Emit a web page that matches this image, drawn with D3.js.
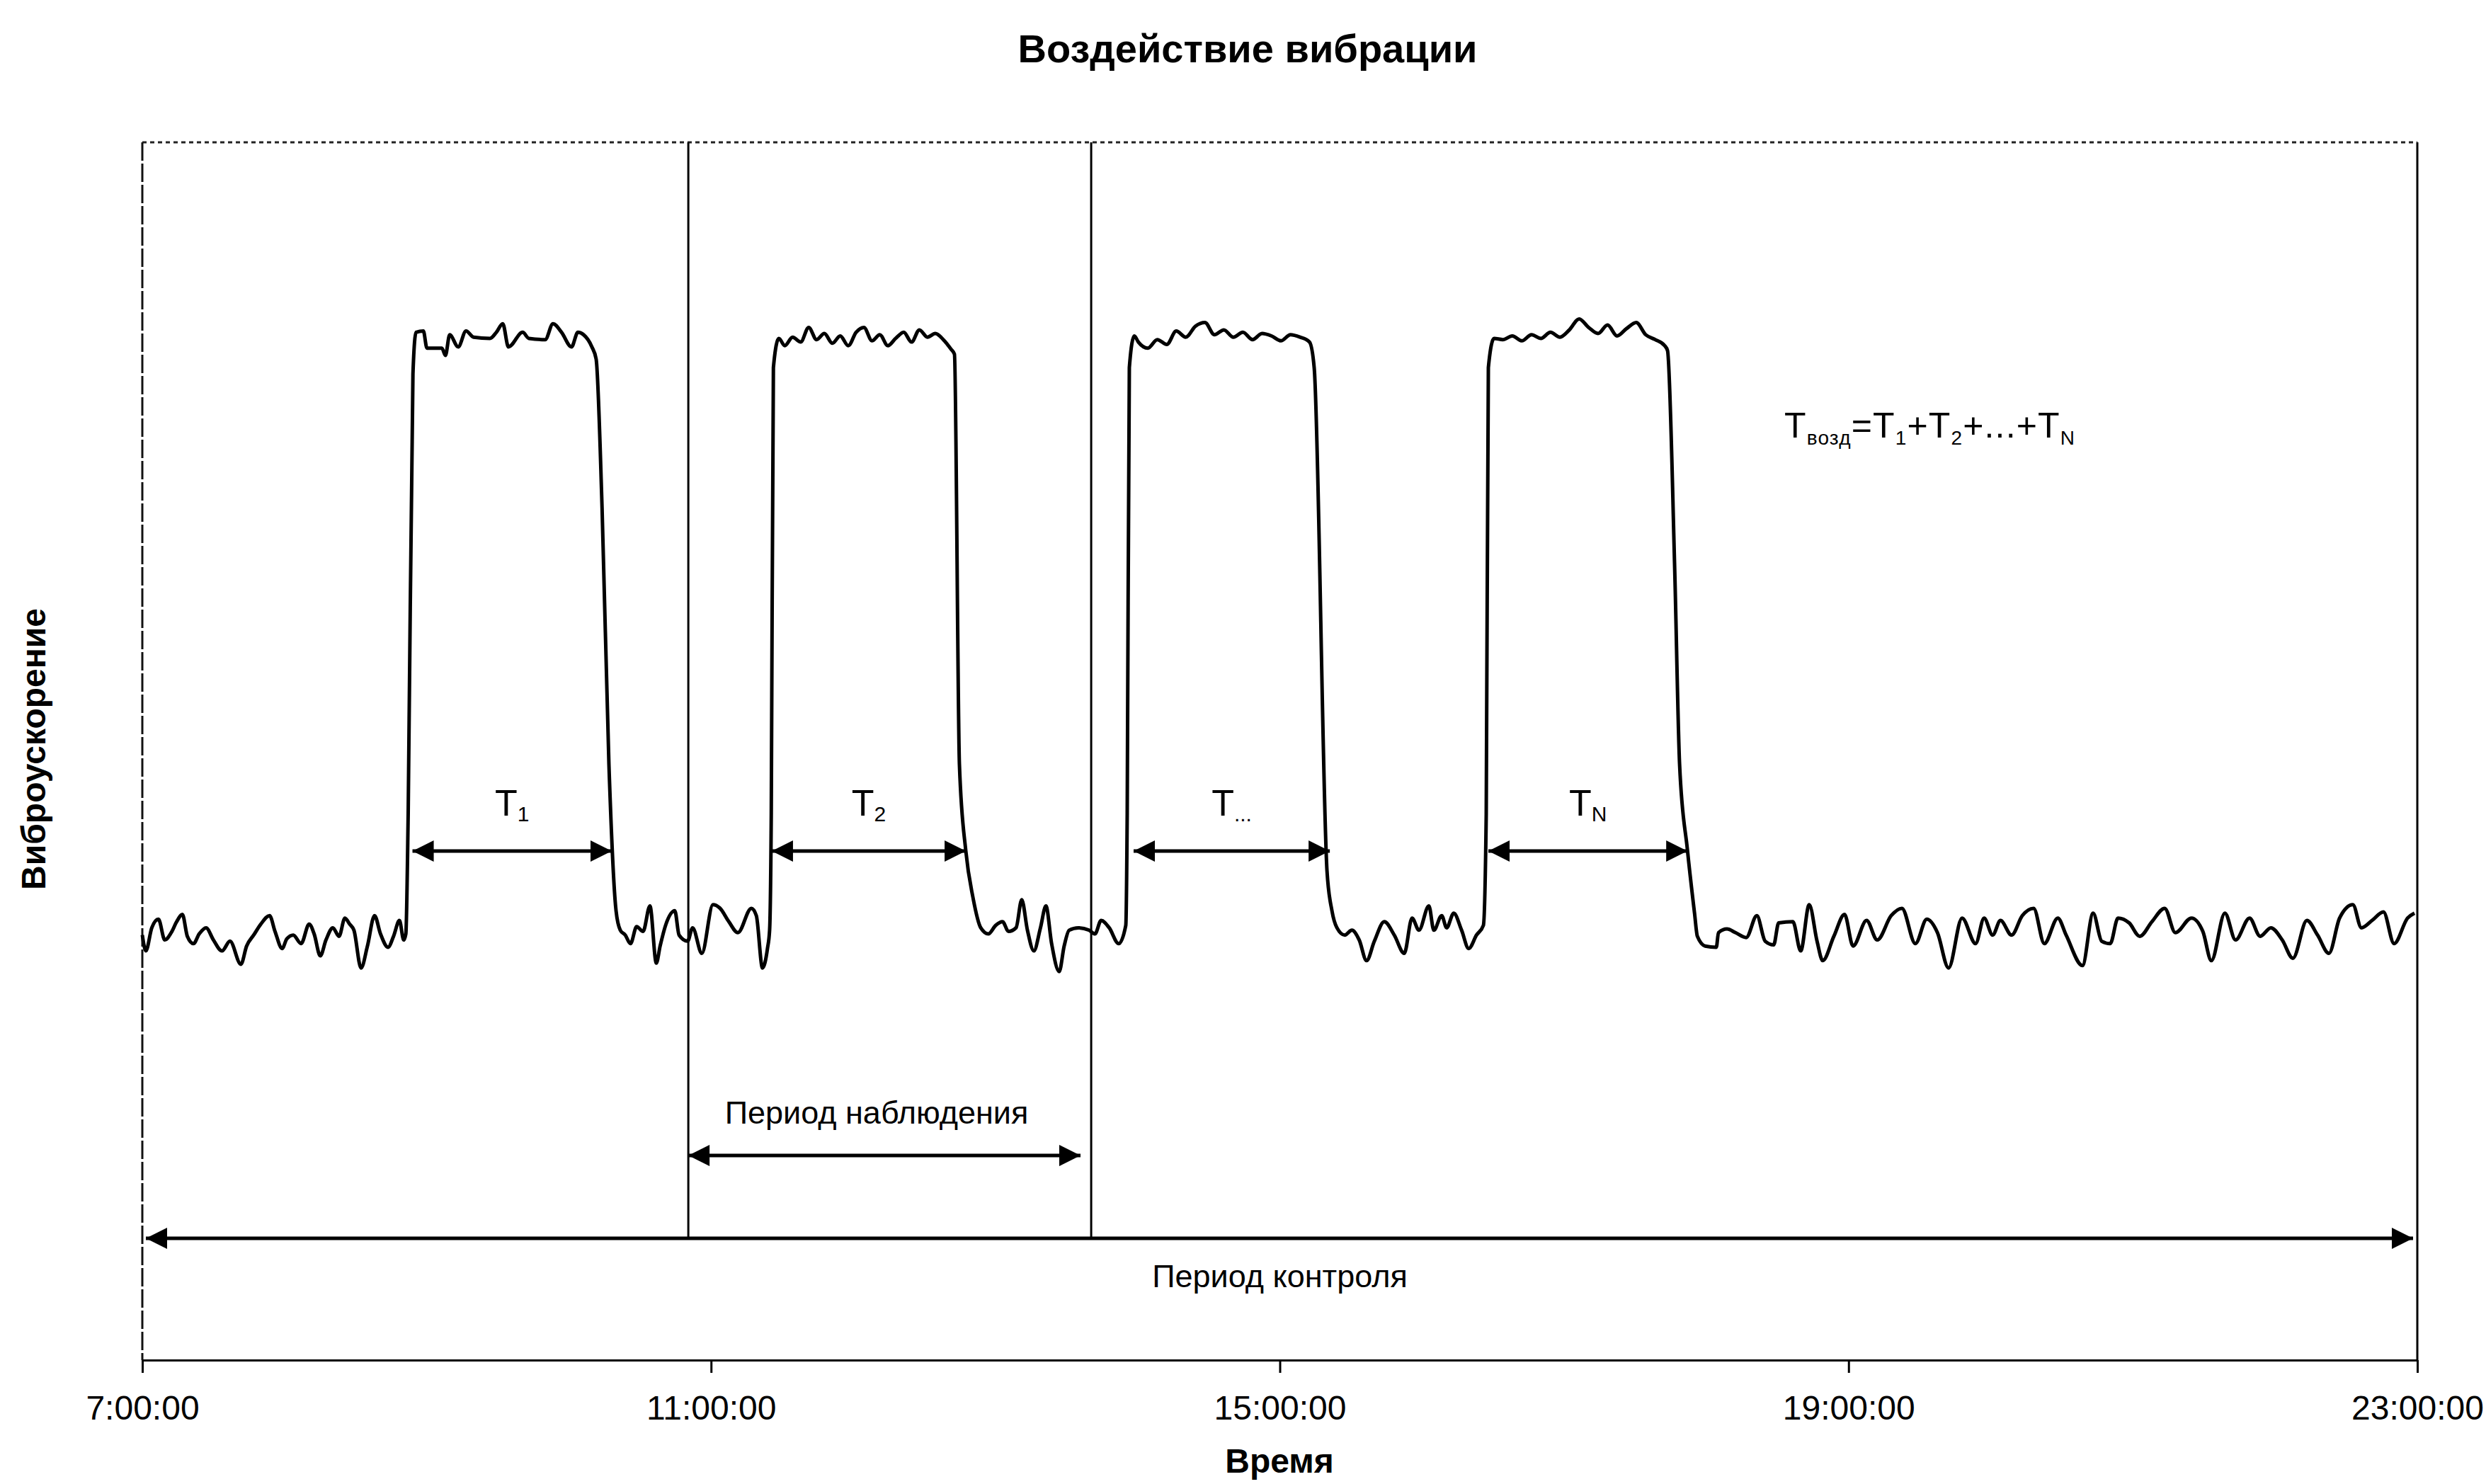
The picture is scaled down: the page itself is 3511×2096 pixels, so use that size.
<!DOCTYPE html>
<html>
<head>
<meta charset="utf-8">
<script src="https://cdn.jsdelivr.net/npm/d3@7"></script>
<style>
  body { margin: 0; background: #fff; }
  text { font-family: "Liberation Sans", Arial, sans-serif; fill: #000; }
</style>
</head>
<body>
<svg id="chart" width="3511" height="2096"></svg>
<script>
//Chart values.
//Time is in minutes after 7:00, level is in arbitrary units (0..10).
var tickHours = [7, 11, 15, 19, 23];
var tickLabels = ["7:00:00", "11:00:00", "15:00:00", "19:00:00", "23:00:00"];

var signal = [
  [0,3.49],[1.5,3.36],[4,3.55],[6.8,3.62],[9.5,3.45],[12.2,3.51],[14.5,3.60],[16.9,3.66],[19,3.48],[21.6,3.42],
  [24,3.50],[26.9,3.55],[30,3.45],[33.6,3.36],[37,3.44],[41.6,3.25],[44,3.40],[47,3.49],[50,3.58],[53.7,3.65],
  [56,3.52],[59,3.38],[61,3.46],[63.7,3.49],[67,3.42],[70.4,3.58],[72.5,3.50],[75.1,3.32],[77.5,3.45],[80.4,3.55],
  [83,3.48],[85.5,3.63],[87.5,3.58],[89.3,3.53],[92.3,3.22],[95,3.40],[98,3.65],[100.5,3.50],[103.7,3.39],[106,3.48],
  [108.5,3.61],[110.3,3.45],[111.2,3.50],[112.2,4.5],[114.2,8.10],[115.5,8.44],
  [118.6,8.45],[120.1,8.31],[126.4,8.31],[127.9,8.25],[129.7,8.42],[133.3,8.32],[136.6,8.45],[139.8,8.40],[146.7,8.39],
  [149.4,8.44],[152.1,8.51],[154.5,8.32],[160.5,8.44],[163.1,8.39],[170.0,8.38],[173.3,8.51],[176.9,8.44],[181.1,8.32],
  [183.8,8.44],[186.2,8.42],[189.7,8.32],[191.5,8.22],
  [194,7.0],[196.9,4.89],[199.9,3.69],[201.7,3.53],
  [203.8,3.49],[206,3.42],[208.6,3.56],[211.3,3.52],[214.2,3.73],[216.9,3.26],[218.5,3.40],[220.8,3.57],[224.7,3.69],
  [226.5,3.49],[230.1,3.44],[232.2,3.55],[236.1,3.34],[240.8,3.74],[243.8,3.71],[247.5,3.60],[251.3,3.51],[257.0,3.71],
  [259.1,3.65],[261.7,3.22],[263.8,3.38],[264.7,3.53],
  [265.4,4.48],[266.3,8.15],[268.6,8.39],
  [271.1,8.33],[274.4,8.40],[277.8,8.36],[281.2,8.48],[284.5,8.38],[287.8,8.43],[291.2,8.35],[294.5,8.41],[297.9,8.33],
  [301.2,8.44],[304.5,8.48],[307.9,8.37],[311.2,8.42],[314.6,8.33],[317.9,8.39],[321.3,8.44],[324.6,8.36],[327.9,8.46],
  [331.3,8.40],[334.6,8.43],[338.0,8.38],[341.3,8.30],[342.7,8.26],
  [344.8,4.89],[347.5,4.18],[350.5,3.80],[353.8,3.55],
  [357,3.50],[360.1,3.57],[363.0,3.60],[365.5,3.52],[368.7,3.55],[371.1,3.78],[373.5,3.53],[376.2,3.36],[379,3.55],
  [381.3,3.73],[383.7,3.42],[386.9,3.19],[389,3.40],[391.1,3.53],[395,3.55],[399.5,3.53],[402,3.50],[404.6,3.61],
  [408,3.55],[412.0,3.42],[415.0,3.57],
  [415.6,4.48],[416.5,8.15],[418.6,8.41],
  [420.3,8.36],[424.3,8.31],[428.3,8.38],[432.3,8.34],[436.3,8.45],[440.3,8.40],[444.4,8.49],[448.4,8.52],[452.4,8.42],
  [456.4,8.46],[460.4,8.40],[464.4,8.44],[468.5,8.38],[472.5,8.43],[476.5,8.41],[480.5,8.37],[484.5,8.42],[488.5,8.40],
  [492.5,8.36],[494.5,8.15],
  [499.9,4.02],[502.0,3.69],
  [504.1,3.55],[507.4,3.49],[510.4,3.53],[513.5,3.45],[516.6,3.28],[519.9,3.44],[524.1,3.60],[528.3,3.49],[532.5,3.34],
  [535.8,3.63],[538.7,3.53],[542.9,3.73],[545.0,3.53],[548.3,3.65],[550.4,3.55],[553.4,3.67],[556.7,3.53],[559.7,3.38],
  [563.0,3.49],[565.9,3.57],
  [567.1,4.48],[568.0,8.15],[570.4,8.39],
  [574.1,8.38],[578.1,8.41],[582.2,8.37],[586.2,8.42],[590.2,8.39],[594.2,8.44],[598.2,8.40],[602.2,8.46],[606.3,8.55],
  [610.3,8.48],[614.3,8.43],[618.3,8.50],[622.3,8.41],[626.3,8.47],[630.4,8.52],[634.4,8.42],[638.4,8.38],[642.4,8.33],
  [643.6,8.29],
  [646.6,6.52],[648.7,4.89],[652.0,4.19],[655.0,3.67],[656.2,3.48],
  [659.5,3.40],[664.2,3.39],[665.1,3.51],[668.7,3.54],[672.3,3.51],[676.8,3.47],[681.3,3.65],[684.8,3.44],[688.4,3.41],
  [690.5,3.59],[696.5,3.60],[699.8,3.36],[703.4,3.74],[706.7,3.44],[709.1,3.28],[713.8,3.48],[718.3,3.66],[721.9,3.40],
  [727.6,3.61],[732.1,3.45],[738.0,3.65],[742.5,3.71],[748.2,3.42],[753.0,3.62],[757.5,3.51],[762.2,3.22],[767.9,3.63],
  [773.6,3.42],[777.2,3.63],[780.8,3.49],[784.1,3.61],[788.8,3.49],[793.3,3.65],[798.1,3.71],[802.6,3.42],[808.3,3.63],
  [811.8,3.49],[818.7,3.24],[823.2,3.67],[826.8,3.44],[830.4,3.42],[833.7,3.63],[838.4,3.59],[842.9,3.48],[848,3.60],
  [853.4,3.71],[857.9,3.51],[864.7,3.63],[869.5,3.52],[873.1,3.28],[878.8,3.67],[883.3,3.45],[889.2,3.63],[893.7,3.48],
  [898.2,3.55],[903,3.45],[907.5,3.30],[913.4,3.61],[917.9,3.49],[922.7,3.34],[927.2,3.63],[932.8,3.74],[936.4,3.55],
  [940.9,3.61],[945.7,3.68],[950.2,3.42],[955.9,3.63],[958.8,3.67]
];

//Exposure intervals T1..TN (minutes after 7:00) and their labels.
var pulseStart = [114.0, 265.6, 418.3, 568.0];
var pulseEnd = [198.1, 347.5, 501.1, 652.0];
var pulseSub = ["1", "2", "...", "N"];
var pulseLevel = 4.18;

//Observation period (the two vertical lines) and control period.
var observation = [230.4, 400.4];
var observationLevel = 1.68;
var control = [0, 960];
var controlLevel = 1.0;

//plot box (note: "top" can't be used as a global name, it is window.top)
var plotLeft = 201, plotRight = 3414, plotTop = 201, plotBottom = 1921;

var t0 = new Date(2000, 0, 1, 7, 0);
function toDate(min) { return new Date(t0.getTime() + min * 60000); }

var x = d3.scaleTime().domain([toDate(0), toDate(960)]).range([plotLeft, plotRight]);
var y = d3.scaleLinear().domain([0, 10]).range([plotBottom, plotTop]);

var svg = d3.select("#chart");

//Arrow head, used at both ends of the double arrows.
svg.append("defs").append("marker")
    .attr("id", "head")
    .attr("viewBox", "0 0 10 10")
    .attr("refX", 10).attr("refY", 5)
    .attr("markerUnits", "userSpaceOnUse")
    .attr("markerWidth", 32).attr("markerHeight", 30)
    .attr("orient", "auto-start-reverse")
    .append("path").attr("d", "M0,0 L10,5 L0,10 z").attr("fill", "#000");

//Title
svg.append("text").attr("x", 1762).attr("y", 88)
    .attr("text-anchor", "middle").attr("font-size", 56).attr("font-weight", "bold")
    .text("Воздействие вибрации");

//Plot frame: top and left are dotted like the scanned original.
svg.append("line").attr("x1", plotLeft).attr("x2", plotRight).attr("y1", plotTop).attr("y2", plotTop)
    .attr("stroke", "#222").attr("stroke-width", 3).attr("stroke-dasharray", "6,5");
svg.append("line").attr("x1", plotLeft).attr("x2", plotLeft).attr("y1", plotTop).attr("y2", plotBottom)
    .attr("stroke", "#111").attr("stroke-width", 3).attr("stroke-dasharray", "26,4");
svg.append("line").attr("x1", plotRight).attr("x2", plotRight).attr("y1", plotTop).attr("y2", plotBottom)
    .attr("stroke", "#000").attr("stroke-width", 3);

//X axis
var xAxis = d3.axisBottom(x)
    .tickValues(tickHours.map(function(h) { return toDate((h - 7) * 60); }))
    .tickSizeInner(18).tickSizeOuter(0)
    .tickFormat(function(d, i) { return tickLabels[i]; });

var gx = svg.append("g").attr("transform", "translate(0," + plotBottom + ")").call(xAxis);
gx.select(".domain").attr("stroke", "#000").attr("stroke-width", 3);
gx.selectAll(".tick line").attr("stroke", "#000").attr("stroke-width", 3);
gx.selectAll(".tick text").attr("font-size", 48).attr("y", 50)
    .attr("font-family", "\"Liberation Sans\", Arial, sans-serif").attr("fill", "#000");

//Axis titles
svg.append("text").attr("x", 1807).attr("y", 2080)
    .attr("text-anchor", "middle").attr("font-size", 48).attr("font-weight", "bold")
    .text("Время");
svg.append("text").attr("transform", "translate(64,1058) rotate(-90)")
    .attr("text-anchor", "middle").attr("font-size", 48).attr("font-weight", "bold")
    .text("Виброускорение");

//Observation period boundaries
svg.selectAll(".obsLine").data(observation).enter().append("line")
    .attr("class", "obsLine")
    .attr("x1", function(d) { return x(toDate(d)); })
    .attr("x2", function(d) { return x(toDate(d)); })
    .attr("y1", y(10)).attr("y2", y(controlLevel))
    .attr("stroke", "#000").attr("stroke-width", 3);

//Vibration signal, monotone curve keeps the wiggles soft without overshooting the steps
var line = d3.line()
    .curve(d3.curveMonotoneX)
    .x(function(d) { return x(toDate(d[0])); })
    .y(function(d) { return y(d[1]); });

svg.append("path").datum(signal)
    .attr("d", line)
    .attr("fill", "none").attr("stroke", "#000").attr("stroke-width", 5)
    .attr("stroke-linejoin", "round");

//Double arrow helper
function doubleArrow(a, b, level) {
    svg.append("line")
        .attr("x1", x(toDate(a))).attr("x2", x(toDate(b)))
        .attr("y1", y(level)).attr("y2", y(level))
        .attr("stroke", "#000").attr("stroke-width", 5)
        .attr("marker-start", "url(#head)")
        .attr("marker-end", "url(#head)");
}

//T1..TN arrows with labels
pulseStart.forEach(function(s, i) {
    doubleArrow(s, pulseEnd[i], pulseLevel);
    var t = svg.append("text")
        .attr("x", x(toDate((s + pulseEnd[i]) / 2)))
        .attr("y", y(pulseLevel) - 50)
        .attr("text-anchor", "middle").attr("font-size", 52);
    t.append("tspan").text("T");
    t.append("tspan").attr("font-size", 30).attr("dy", 8).text(pulseSub[i]);
});

//Observation and control periods
doubleArrow(observation[0], observation[1] - 4.5, observationLevel);
svg.append("text").attr("x", 1238).attr("y", 1587)
    .attr("text-anchor", "middle").attr("font-size", 45)
    .text("Период наблюдения");

doubleArrow(control[0] + 1.5, control[1] - 1.8, controlLevel);
svg.append("text").attr("x", x(toDate(480))).attr("y", 1818)
    .attr("text-anchor", "middle").attr("font-size", 45)
    .text("Период контроля");

//Total exposure formula
var f = svg.append("text").attr("x", 2520).attr("y", 618)
    .attr("font-size", 50).attr("textLength", 410).attr("lengthAdjust", "spacing");
var parts = [["T", ""], ["возд", "sub"], ["=T", ""], ["1", "sub"], ["+T", ""], ["2", "sub"],
             ["+...+T", ""], ["N", "sub"]];
parts.forEach(function(p) {
    var ts = f.append("tspan").text(p[0]);
    if (p[1] == "sub") {
        ts.attr("font-size", 28).attr("dy", 10);
    } else {
        ts.attr("dy", f.selectAll("tspan").size() > 1 ? -10 : 0);
    }
});
</script>
</body>
</html>
